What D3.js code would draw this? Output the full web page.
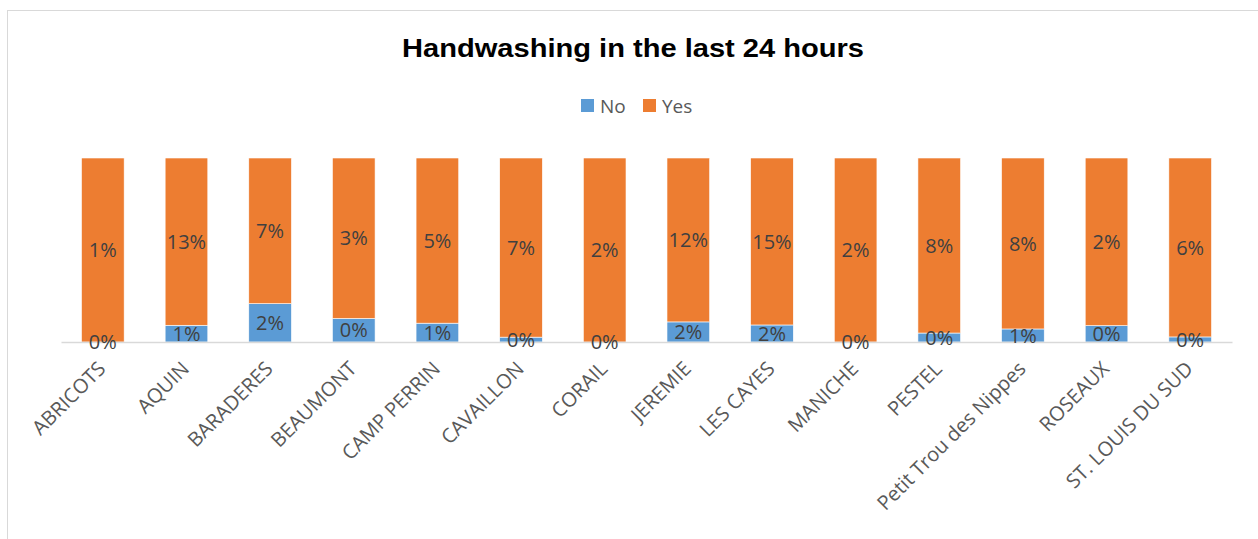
<!DOCTYPE html>
<html>
<head>
<meta charset="utf-8">
<script src="https://cdn.jsdelivr.net/npm/d3@7"></script>
<style>
  html, body { margin: 0; padding: 0; background: #fff; }
  svg { display: block; }
</style>
</head>
<body>
<svg id="chart" width="1258" height="539"></svg>
<script>
// Communes surveyed
const communes = [
  "ABRICOTS", "AQUIN", "BARADERES", "BEAUMONT", "CAMP PERRIN", "CAVAILLON",
  "CORAIL", "JEREMIE", "LES CAYES", "MANICHE", "PESTEL",
  "Petit Trou des Nippes", "ROSEAUX", "ST. LOUIS DU SUD"
];
// Share of respondents answering "No" / "Yes"
const noValues  = [0.000, 0.013, 0.0184, 0.0044, 0.0057, 0.0019, 0.000, 0.0152, 0.0155, 0.000, 0.0041, 0.0061, 0.00195, 0.0017];
const yesValues = [0.012, 0.130, 0.070, 0.030, 0.050, 0.070, 0.020, 0.124, 0.152, 0.020, 0.080, 0.080, 0.020, 0.060];
const seriesNames = ["No", "Yes"];
const seriesColors = ["#5B9BD5", "#ED7D31"];

const W = 1258, H = 539;
const svg = d3.select("#chart");

// chart frame
svg.append("rect")
  .attr("x", 7.5).attr("y", 10.5)
  .attr("width", W).attr("height", H)
  .attr("fill", "#fff").attr("stroke", "#D9D9D9").attr("stroke-width", 1);

// title
svg.append("text")
  .attr("x", 633).attr("y", 57)
  .attr("text-anchor", "middle")
  .attr("font-family", "Liberation Sans, Arial, sans-serif")
  .attr("font-weight", "bold")
  .attr("font-size", 25)
  .attr("textLength", 462)
  .attr("lengthAdjust", "spacingAndGlyphs")
  .attr("fill", "#000")
  .text("Handwashing in the last 24 hours");

// legend
const legendItems = [
  { name: seriesNames[0], color: seriesColors[0], x: 581 },
  { name: seriesNames[1], color: seriesColors[1], x: 643 }
];
const lg = svg.append("g");
legendItems.forEach(d => {
  lg.append("rect").attr("x", d.x).attr("y", 99).attr("width", 13).attr("height", 13).attr("fill", d.color);
  lg.append("text").attr("x", d.x + 19).attr("y", 112.5)
    .attr("font-family", "Open Sans, sans-serif").attr("font-size", 19)
    .attr("fill", "#595959").text(d.name);
});

// scales
const x = d3.scaleBand()
  .domain(communes)
  .range([61, 1232])
  .paddingInner(0.49)
  .paddingOuter(0.245);
const y = d3.scaleLinear().domain([0, 1]).range([342, 158]);

const rows = communes.map((c, i) => ({ commune: c, No: noValues[i], Yes: yesValues[i] }));
const stacked = d3.stack().keys(seriesNames).offset(d3.stackOffsetExpand)(rows);

// bars
const layers = svg.append("g").selectAll("g")
  .data(stacked).join("g")
  .attr("fill", (d, i) => seriesColors[i]);
layers.selectAll("rect")
  .data(d => d)
  .join("rect")
  .attr("x", d => x(d.data.commune))
  .attr("width", x.bandwidth())
  .attr("y", d => y(d[1]))
  .attr("height", d => y(d[0]) - y(d[1]))
  .attr("stroke", "#fff").attr("stroke-width", 0.6);

// category axis
const xAxis = svg.append("g")
  .attr("transform", "translate(0,342)")
  .call(d3.axisBottom(x).tickSize(0).tickFormat(""));
xAxis.select(".domain").attr("stroke", "#D9D9D9").attr("stroke-width", 1.3);

svg.append("g").selectAll("text")
  .data(communes).join("text")
  .attr("transform", d => `translate(${x(d) + x.bandwidth() / 2 + 4},370) rotate(-45)`)
  .attr("text-anchor", "end")
  .attr("font-family", "Open Sans, sans-serif")
  .attr("font-size", 20)
  .attr("fill", "#595959")
  .text(d => d);

// data labels
const fmt = d3.format(".0%");
const labels = svg.append("g");
stacked.forEach(layer => {
  labels.selectAll(null)
    .data(layer).join("text")
    .attr("x", d => x(d.data.commune) + x.bandwidth() / 2)
    .attr("y", d => (y(d[0]) + y(d[1])) / 2)
    .attr("dy", "0.36em")
    .attr("text-anchor", "middle")
    .attr("font-family", "Open Sans, sans-serif")
    .attr("font-size", 20)
    .attr("fill", "#404040")
    .text(d => fmt(d.data[layer.key]));
});
</script>
</body>
</html>
